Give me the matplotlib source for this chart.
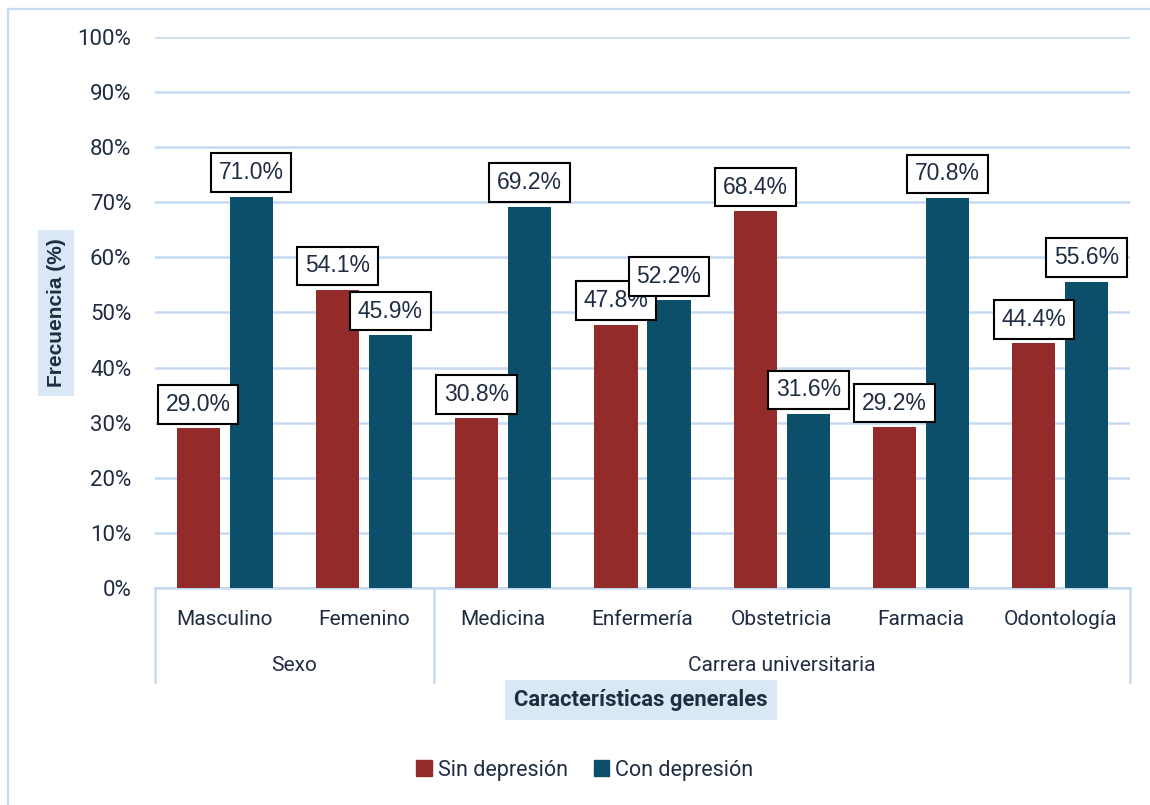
import numpy as np
import matplotlib.pyplot as plt
from matplotlib.patches import Patch
from matplotlib.lines import Line2D
import matplotlib.transforms as mtransforms

# Datos
categorias = ["Masculino", "Femenino", "Medicina", "Enfermería",
              "Obstetricia", "Farmacia", "Odontología"]
sin_depresion = [29.0, 54.1, 30.8, 47.8, 68.4, 29.2, 44.4]
con_depresion = [71.0, 45.9, 69.2, 52.2, 31.6, 70.8, 55.6]
grupos = ["Sexo", "Carrera universitaria"]
grupo_rangos = [(0, 1), (2, 6)]
y_ticks = [0, 10, 20, 30, 40, 50, 60, 70, 80, 90, 100]

rojo = "#922B29"
azul = "#0B4F6B"
texto = "#1F2D42"
celeste = "#C5DAF0"

plt.rcParams['font.family'] = ['Roboto', 'DejaVu Sans']

fig = plt.figure(figsize=(11.5, 8.05), dpi=100)
ax = fig.add_axes([155 / 1150, 1 - 588 / 805, 975 / 1150, 551 / 805])

x = np.arange(len(categorias))
desp = 0.19
ancho = 0.31
b1 = ax.bar(x - desp, sin_depresion, ancho, color=rojo, zorder=3)
b2 = ax.bar(x + desp, con_depresion, ancho, color=azul, zorder=3)

# Etiquetas de datos en cajas
for barras, valores in [(b1, sin_depresion), (b2, con_depresion)]:
    for rect, v in zip(barras, valores):
        ax.annotate(f"{v:.1f}%", (rect.get_x() + rect.get_width() / 2, v),
                    xytext=(0, 9), textcoords="offset points",
                    ha="center", va="bottom", fontsize=16.5, color=texto,
                    family=["Liberation Sans"], zorder=5,
                    bbox=dict(boxstyle="square,pad=0.34", fc="white",
                              ec="black", lw=1.5))

ax.set_xlim(-0.5, len(categorias) - 0.5)
ax.set_ylim(0, 100)
ax.set_yticks(y_ticks)
ax.set_yticklabels([f"{t}%" for t in y_ticks])
ax.tick_params(axis="y", length=0, pad=17, labelsize=16, labelcolor=texto)
ax.grid(axis="y", color=celeste, lw=1.8, zorder=0)
ax.set_xticks(x)
ax.set_xticklabels(categorias)
ax.tick_params(axis="x", length=0, pad=16, labelsize=15, labelcolor=texto)

for s in ["top", "right", "left"]:
    ax.spines[s].set_visible(False)
ax.spines["bottom"].set_color(celeste)
ax.spines["bottom"].set_linewidth(1.8)

# Lineas de separacion de grupos y etiquetas de grupo
trans = mtransforms.blended_transform_factory(ax.transData, ax.transAxes)
bajo = -(682 - 588) / 551
for xs in [-0.5, 1.5, len(categorias) - 0.5]:
    ax.add_line(Line2D([xs, xs], [0, bajo], transform=trans, color=celeste,
                       lw=1.8, clip_on=False))
for nombre, (a, b) in zip(grupos, grupo_rangos):
    ax.text((a + b) / 2, -(665 - 588) / 551, nombre, transform=trans,
            ha="center", va="center", fontsize=15, color=texto)

# Titulos de ejes
fig.text(641 / 1150, 1 - 700 / 805, "Características generales",
         ha="center", va="center", fontsize=15.8, fontweight="bold", color=texto,
         bbox=dict(boxstyle="square,pad=0.42", fc="#DAE8F5", ec="none"))
fig.text(56 / 1150, 1 - 313 / 805, "Frecuencia (%)", rotation=90,
         ha="center", va="center", fontsize=15, fontweight="bold", color=texto,
         family=["Liberation Sans"],
         bbox=dict(boxstyle="square,pad=0.4", fc="#DAE8F5", ec="none"))

# Leyenda
handles = [Patch(color=rojo, label="Sin depresión"),
           Patch(color=azul, label="Con depresión")]
fig.legend(handles=handles, loc="center", bbox_to_anchor=(585 / 1150, 1 - 770 / 805),
           ncol=2, frameon=False, fontsize=15.5, labelcolor=texto,
           handlelength=0.7, handleheight=0.7, handletextpad=0.3, columnspacing=1.2)

# Borde del grafico
fig.add_artist(Line2D([8 / 1150, 8 / 1150], [0, 1 - 9 / 805], color=celeste, lw=1.6))
fig.add_artist(Line2D([8 / 1150, 1], [1 - 9 / 805, 1 - 9 / 805], color=celeste, lw=1.6))

fig.savefig("out.png", dpi=100)
